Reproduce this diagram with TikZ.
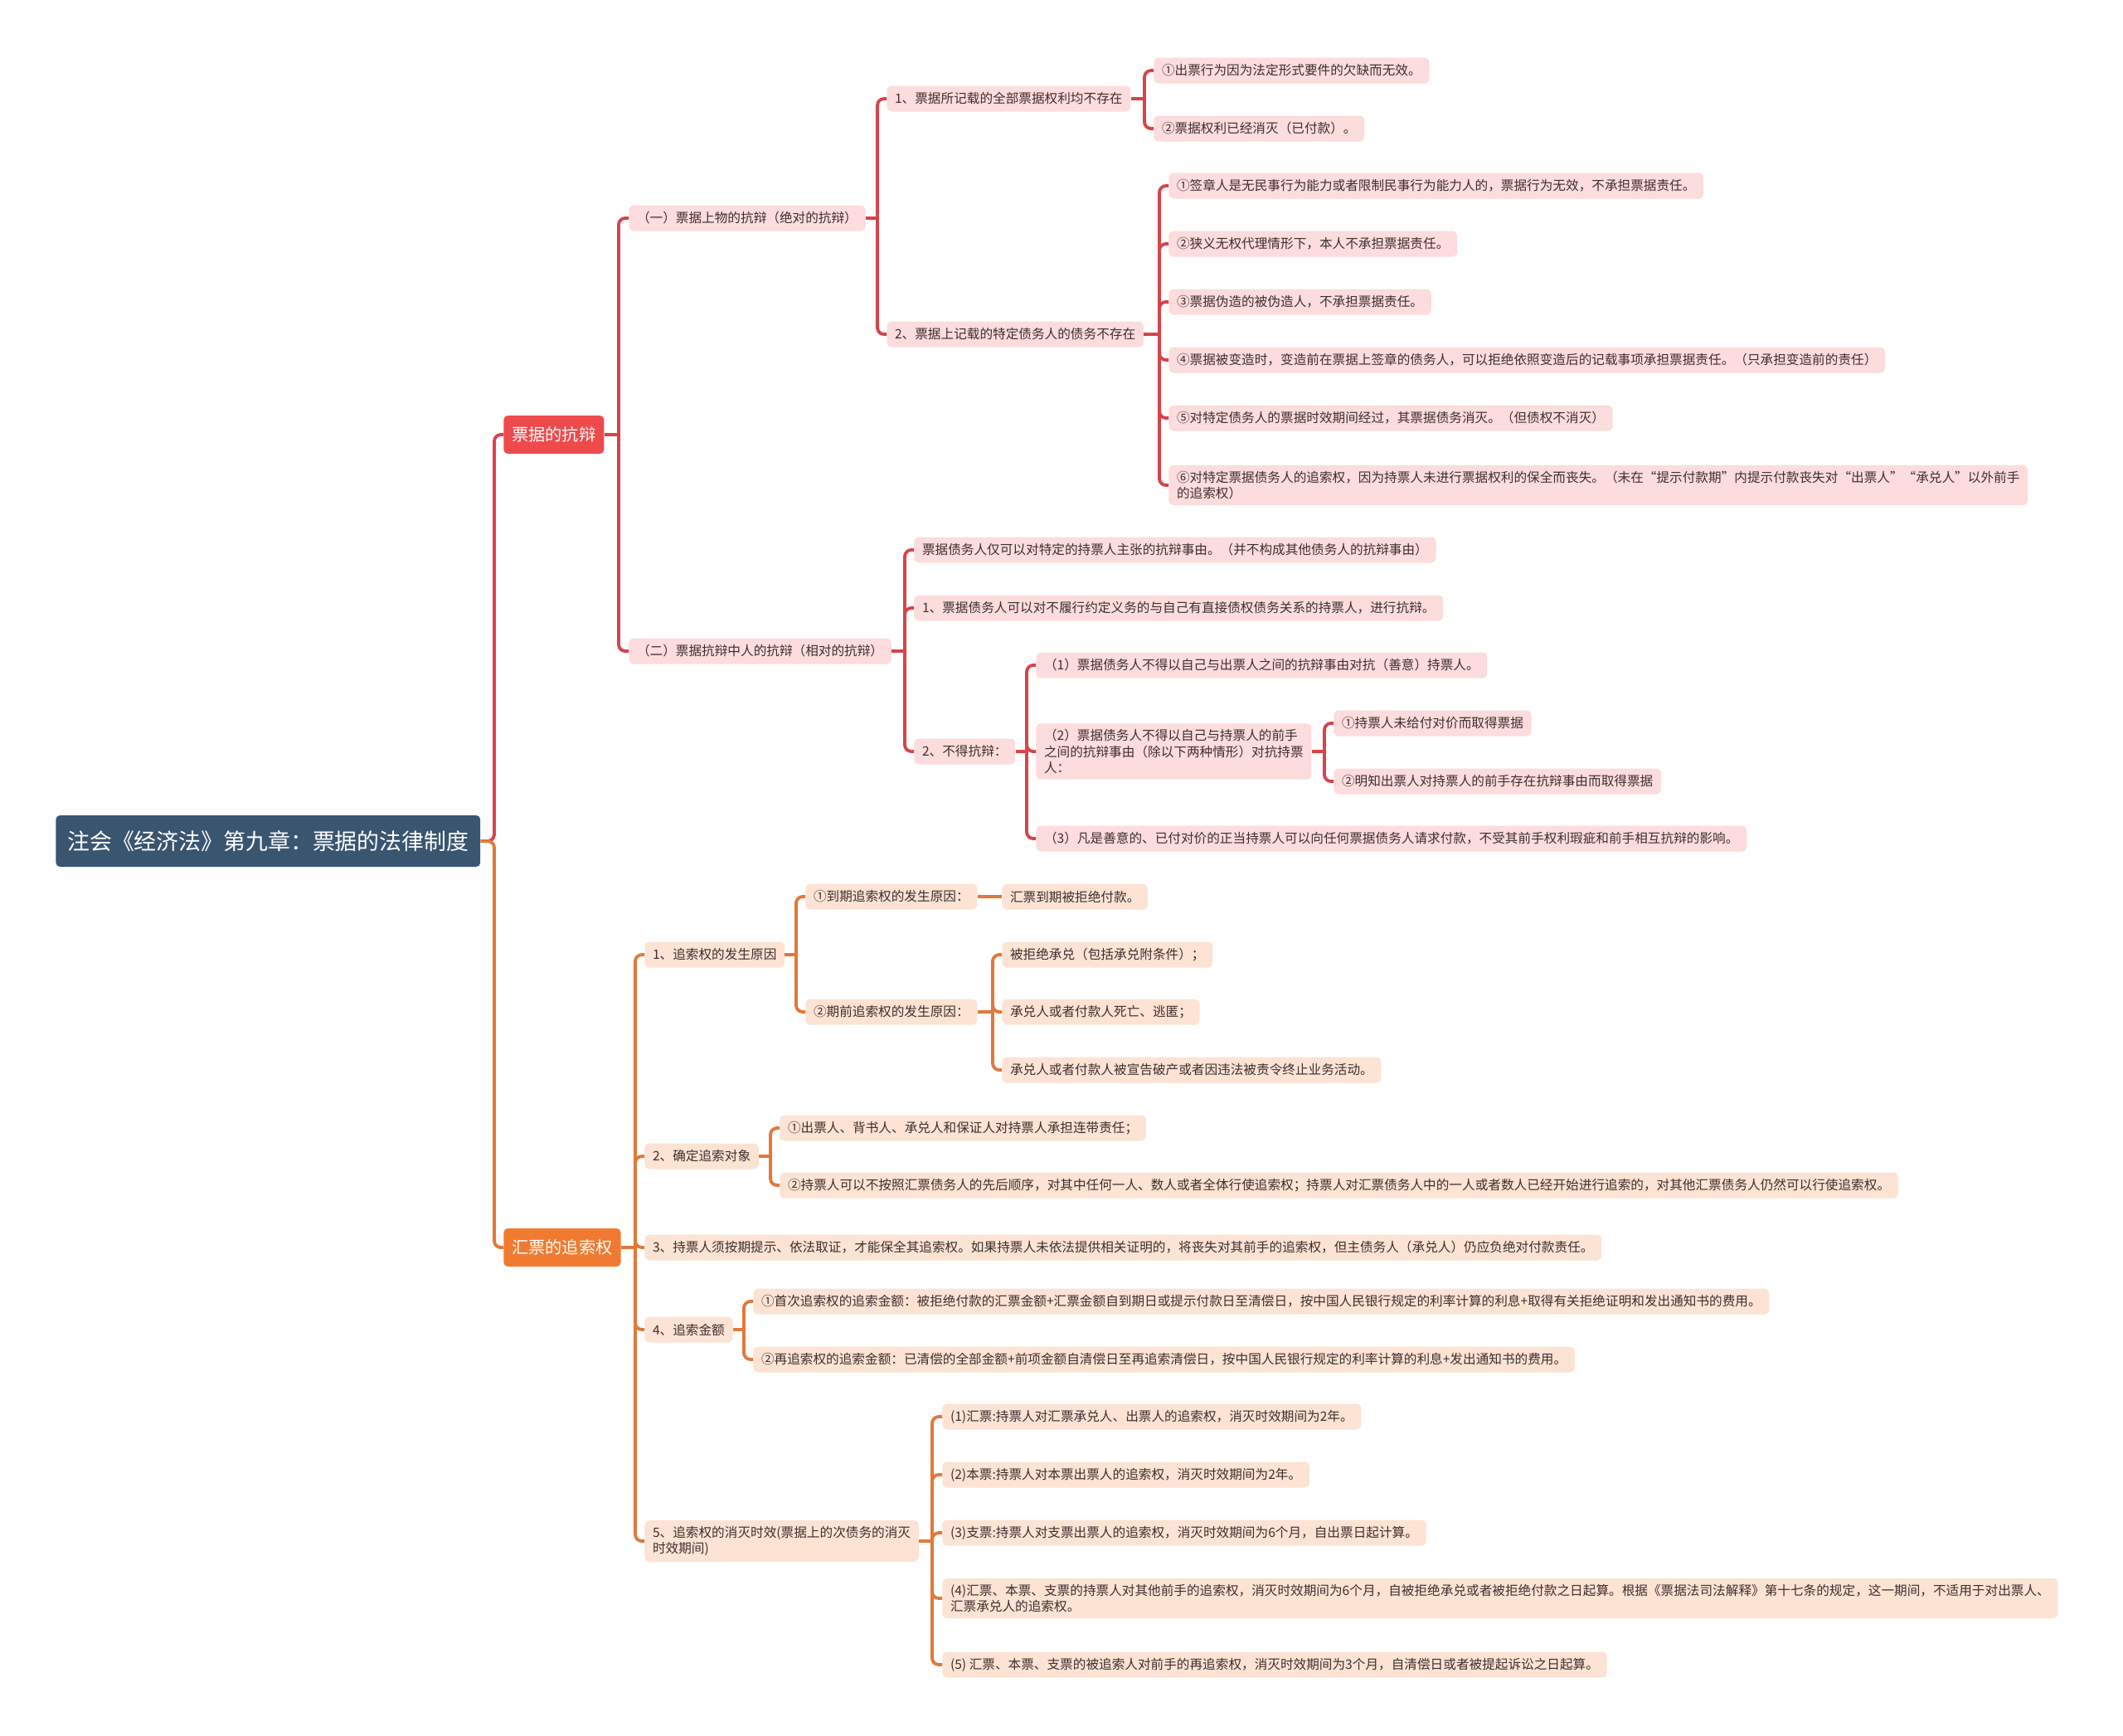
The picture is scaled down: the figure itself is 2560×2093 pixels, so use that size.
\documentclass[tikz,border=0pt]{standalone}
\usepackage{fontspec}
\setmainfont{Noto Sans CJK SC}
\definecolor{rootblue}{HTML}{3A5570}
\definecolor{redmain}{HTML}{EE4A4C}
\definecolor{redline}{HTML}{D8434A}
\definecolor{redfill}{HTML}{FCDCDC}
\definecolor{orgmain}{HTML}{F07A30}
\definecolor{orgline}{HTML}{E0793A}
\definecolor{orgfill}{HTML}{FCE3D4}
\definecolor{txtdark}{HTML}{3F2E2E}
\tikzset{
	box/.style={anchor=west, rounded corners=0.12cm, inner xsep=5.5pt, inner ysep=4pt, minimum height=0.62cm, font=\fontsize{8.9}{11}\selectfont, text=txtdark, align=left},
	rbox/.style={box, fill=redfill},
	obox/.style={box, fill=orgfill},
	topic/.style={anchor=west, rounded corners=0.1cm, text=white, font=\fontsize{11.5}{14}\selectfont, inner xsep=0.2cm, minimum height=0.92cm},
	rline/.style={draw=redline, line width=2.2pt, rounded corners=0.16cm},
	oline/.style={draw=orgline, line width=2.2pt, rounded corners=0.16cm}
}
\begin{document}
\begin{tikzpicture}[x=0.02cm, y=-0.02cm]
	\useasboundingbox (0,0) rectangle (2560,2093);
	
	\node[anchor=west, fill=rootblue, rounded corners=0.1cm, text=white, font=\fontsize{15.3}{18}\selectfont, inner xsep=0.28cm, minimum height=1.24cm] (root) at (67,1014) {注会《经济法》第九章：票据的法律制度};
	\node[topic, fill=redmain] (kb) at (607,524) {票据的抗辩};
	\node[topic, fill=orgmain] (zs) at (607,1504) {汇票的追索权};
	\coordinate (jroot) at (596,1014);
	\draw[rline] (root.east) -- (jroot) |- (kb.west);
	\draw[oline] (root.east) -- (jroot) |- (zs.west);
	
	\coordinate (jkb) at (746,524);
	\draw[rline] (kb.east) -- (jkb);
	\foreach \nm/\y/\t in {wu/263/{（一）票据上物的抗辩（绝对的抗辩）}, ren/785/{（二）票据抗辩中人的抗辩（相对的抗辩）}}
	{
		\node[rbox] (\nm) at (758,\y) {\t};
		\draw[rline] (jkb) |- (\nm.west);
	}
	
	\coordinate (jwu) at (1058,263);
	\draw[rline] (wu.east) -- (jwu);
	\foreach \nm/\y/\t in {wua/119/{1、票据所记载的全部票据权利均不存在}, wub/403/{2、票据上记载的特定债务人的债务不存在}}
	{
		\node[rbox] (\nm) at (1069,\y) {\t};
		\draw[rline] (jwu) |- (\nm.west);
	}
	
	\coordinate (jwua) at (1380,119);
	\draw[rline] (wua.east) -- (jwua);
	\foreach \nm/\y/\t in {wua1/85/{①出票行为因为法定形式要件的欠缺而无效。}, wua2/155/{②票据权利已经消灭（已付款）。}}
	{
		\node[rbox] (\nm) at (1391,\y) {\t};
		\draw[rline] (jwua) |- (\nm.west);
	}
	
	\coordinate (jwub) at (1398,403);
	\draw[rline] (wub.east) -- (jwub);
	\foreach \nm/\y/\t in {wub1/224/{①签章人是无民事行为能力或者限制民事行为能力人的，票据行为无效，不承担票据责任。},
		wub2/294/{②狭义无权代理情形下，本人不承担票据责任。},
		wub3/364/{③票据伪造的被伪造人，不承担票据责任。},
		wub4/434/{④票据被变造时，变造前在票据上签章的债务人，可以拒绝依照变造后的记载事项承担票据责任。（只承担变造前的责任）},
		wub5/504/{⑤对特定债务人的票据时效期间经过，其票据债务消灭。（但债权不消灭）},
		wub6/585/{⑥对特定票据债务人的追索权，因为持票人未进行票据权利的保全而丧失。（未在“提示付款期”内提示付款丧失对“出票人”“承兑人”以外前手\\的追索权）}}
	{
		\node[rbox] (\nm) at (1409,\y) {\t};
		\draw[rline] (jwub) |- (\nm.west);
	}
	
	\coordinate (jren) at (1091,785);
	\draw[rline] (ren.east) -- (jren);
	\foreach \nm/\y/\t in {rena/663/{票据债务人仅可以对特定的持票人主张的抗辩事由。（并不构成其他债务人的抗辩事由）},
		renb/733/{1、票据债务人可以对不履行约定义务的与自己有直接债权债务关系的持票人，进行抗辩。},
		renc/906/{2、不得抗辩：}}
	{
		\node[rbox] (\nm) at (1102,\y) {\t};
		\draw[rline] (jren) |- (\nm.west);
	}
	
	\coordinate (jrenc) at (1238,906);
	\draw[rline] (renc.east) -- (jrenc);
	\foreach \nm/\y/\t in {renc1/802/{（1）票据债务人不得以自己与出票人之间的抗辩事由对抗（善意）持票人。},
		renc2/906/{（2）票据债务人不得以自己与持票人的前手\\之间的抗辩事由（除以下两种情形）对抗持票\\人：},
		renc3/1011/{（3）凡是善意的、已付对价的正当持票人可以向任何票据债务人请求付款，不受其前手权利瑕疵和前手相互抗辩的影响。}}
	{
		\node[rbox] (\nm) at (1249,\y) {\t};
		\draw[rline] (jrenc) |- (\nm.west);
	}
	
	\coordinate (jrenc2) at (1597,906);
	\draw[rline] (renc2.east) -- (jrenc2);
	\foreach \nm/\y/\t in {renc2a/872/{①持票人未给付对价而取得票据}, renc2b/942/{②明知出票人对持票人的前手存在抗辩事由而取得票据}}
	{
		\node[rbox] (\nm) at (1608,\y) {\t};
		\draw[rline] (jrenc2) |- (\nm.west);
	}
	
	\coordinate (jzs) at (766,1504);
	\draw[oline] (zs.east) -- (jzs);
	\foreach \nm/\y/\t in {zsa/1151/{1、追索权的发生原因}, zsb/1394/{2、确定追索对象},
		zsc/1504/{3、持票人须按期提示、依法取证，才能保全其追索权。如果持票人未依法提供相关证明的，将丧失对其前手的追索权，但主债务人（承兑人）仍应负绝对付款责任。},
		zsd/1603/{4、追索金额}, zse/1858/{5、追索权的消灭时效(票据上的次债务的消灭\\时效期间)}}
	{
		\node[obox] (\nm) at (777,\y) {\t};
		\draw[oline] (jzs) |- (\nm.west);
	}
	
	\coordinate (jzsa) at (960,1151);
	\draw[oline] (zsa.east) -- (jzsa);
	\foreach \nm/\y/\t in {zsa1/1081/{①到期追索权的发生原因：}, zsa2/1220/{②期前追索权的发生原因：}}
	{
		\node[obox] (\nm) at (971,\y) {\t};
		\draw[oline] (jzsa) |- (\nm.west);
	}
	\node[obox] (zsa1a) at (1208,1081) {汇票到期被拒绝付款。};
	\draw[oline] (zsa1.east) -- (zsa1a.west);
	
	\coordinate (jzsa2) at (1197,1220);
	\draw[oline] (zsa2.east) -- (jzsa2);
	\foreach \nm/\y/\t in {zsa2a/1151/{被拒绝承兑（包括承兑附条件）；}, zsa2b/1220/{承兑人或者付款人死亡、逃匿；}, zsa2c/1290/{承兑人或者付款人被宣告破产或者因违法被责令终止业务活动。}}
	{
		\node[obox] (\nm) at (1208,\y) {\t};
		\draw[oline] (jzsa2) |- (\nm.west);
	}
	
	\coordinate (jzsb) at (929,1394);
	\draw[oline] (zsb.east) -- (jzsb);
	\foreach \nm/\y/\t in {zsb1/1360/{①出票人、背书人、承兑人和保证人对持票人承担连带责任；},
		zsb2/1429/{②持票人可以不按照汇票债务人的先后顺序，对其中任何一人、数人或者全体行使追索权；持票人对汇票债务人中的一人或者数人已经开始进行追索的，对其他汇票债务人仍然可以行使追索权。}}
	{
		\node[obox] (\nm) at (940,\y) {\t};
		\draw[oline] (jzsb) |- (\nm.west);
	}
	
	\coordinate (jzsd) at (897,1603);
	\draw[oline] (zsd.east) -- (jzsd);
	\foreach \nm/\y/\t in {zsd1/1569/{①首次追索权的追索金额：被拒绝付款的汇票金额+汇票金额自到期日或提示付款日至清偿日，按中国人民银行规定的利率计算的利息+取得有关拒绝证明和发出通知书的费用。},
		zsd2/1639/{②再追索权的追索金额：已清偿的全部金额+前项金额自清偿日至再追索清偿日，按中国人民银行规定的利率计算的利息+发出通知书的费用。}}
	{
		\node[obox] (\nm) at (908,\y) {\t};
		\draw[oline] (jzsd) |- (\nm.west);
	}
	
	\coordinate (jzse) at (1124,1858);
	\draw[oline] (zse.east) -- (jzse);
	\foreach \nm/\y/\t in {zse1/1708/{(1)汇票:持票人对汇票承兑人、出票人的追索权，消灭时效期间为2年。},
		zse2/1778/{(2)本票:持票人对本票出票人的追索权，消灭时效期间为2年。},
		zse3/1848/{(3)支票:持票人对支票出票人的追索权，消灭时效期间为6个月，自出票日起计算。},
		zse4/1927/{(4)汇票、本票、支票的持票人对其他前手的追索权，消灭时效期间为6个月，自被拒绝承兑或者被拒绝付款之日起算。根据《票据法司法解释》第十七条的规定，这一期间，不适用于对出票人、\\汇票承兑人的追索权。},
		zse5/2007/{(5) 汇票、本票、支票的被追索人对前手的再追索权，消灭时效期间为3个月，自清偿日或者被提起诉讼之日起算。}}
	{
		\node[obox] (\nm) at (1136,\y) {\t};
		\draw[oline] (jzse) |- (\nm.west);
	}
\end{tikzpicture}
\end{document}
